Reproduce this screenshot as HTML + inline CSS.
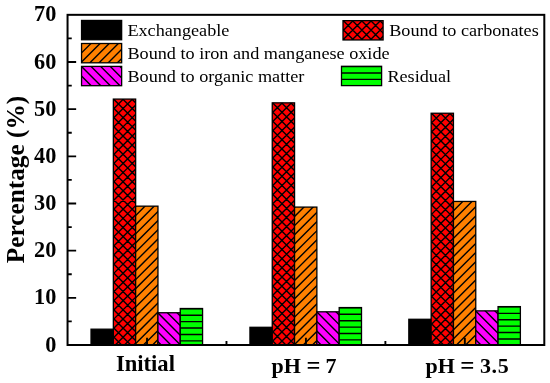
<!DOCTYPE html>
<html lang="en"><head><meta charset="utf-8"><title>Percentage chart</title>
<style>html,body{margin:0;padding:0;background:#fff}body{width:550px;height:383px;overflow:hidden}svg{display:block;filter:blur(0.35px)}svg text{font-family:"Liberation Serif",serif}</style></head>
<body>
<svg width="550" height="383" viewBox="0 0 550 383">
<rect width="550" height="383" fill="#fff"/>
<!-- bars -->
<rect x="91.03" y="329.19" width="22.31" height="15.81" fill="#000000"/><rect x="91.03" y="329.19" width="22.31" height="15.81" fill="none" stroke="#000" stroke-width="1.3"/>
<rect x="113.34" y="99.09" width="22.31" height="245.91" fill="#ff0000"/><clipPath id="c1"><rect x="113.34" y="99.09" width="22.31" height="245.91"/></clipPath><path clip-path="url(#c1)" d="M112.34 82.64L136.65 58.33M112.34 91.79L136.65 67.48M112.34 100.94L136.65 76.63M112.34 110.09L136.65 85.78M112.34 119.24L136.65 94.93M112.34 128.39L136.65 104.08M112.34 137.54L136.65 113.23M112.34 146.69L136.65 122.38M112.34 155.84L136.65 131.53M112.34 164.99L136.65 140.68M112.34 174.14L136.65 149.83M112.34 183.29L136.65 158.98M112.34 192.44L136.65 168.13M112.34 201.59L136.65 177.28M112.34 210.74L136.65 186.43M112.34 219.89L136.65 195.58M112.34 229.04L136.65 204.73M112.34 238.19L136.65 213.88M112.34 247.34L136.65 223.03M112.34 256.49L136.65 232.18M112.34 265.64L136.65 241.33M112.34 274.79L136.65 250.48M112.34 283.94L136.65 259.63M112.34 293.09L136.65 268.78M112.34 302.24L136.65 277.93M112.34 311.39L136.65 287.08M112.34 320.54L136.65 296.23M112.34 329.69L136.65 305.38M112.34 338.84L136.65 314.53M112.34 347.99L136.65 323.68M112.34 357.14L136.65 332.83M112.34 366.29L136.65 341.98M112.34 375.44L136.65 351.13M112.34 61.19L136.65 85.5M112.34 70.34L136.65 94.65M112.34 79.49L136.65 103.8M112.34 88.64L136.65 112.95M112.34 97.79L136.65 122.1M112.34 106.94L136.65 131.25M112.34 116.09L136.65 140.4M112.34 125.24L136.65 149.55M112.34 134.39L136.65 158.7M112.34 143.54L136.65 167.85M112.34 152.69L136.65 177M112.34 161.84L136.65 186.15M112.34 170.99L136.65 195.3M112.34 180.14L136.65 204.45M112.34 189.29L136.65 213.6M112.34 198.44L136.65 222.75M112.34 207.59L136.65 231.9M112.34 216.74L136.65 241.05M112.34 225.89L136.65 250.2M112.34 235.04L136.65 259.35M112.34 244.19L136.65 268.5M112.34 253.34L136.65 277.65M112.34 262.49L136.65 286.8M112.34 271.64L136.65 295.95M112.34 280.79L136.65 305.1M112.34 289.94L136.65 314.25M112.34 299.09L136.65 323.4M112.34 308.24L136.65 332.55M112.34 317.39L136.65 341.7M112.34 326.54L136.65 350.85M112.34 335.69L136.65 360M112.34 344.84L136.65 369.15" stroke="#000" stroke-width="1.4" fill="none"/><rect x="113.34" y="99.09" width="22.31" height="245.91" fill="none" stroke="#000" stroke-width="1.3"/>
<rect x="135.65" y="206.16" width="22.31" height="138.84" fill="#ff8000"/><clipPath id="c2"><rect x="135.65" y="206.16" width="22.31" height="138.84"/></clipPath><path clip-path="url(#c2)" d="M134.65 189.06L158.96 164.75M134.65 198.21L158.96 173.9M134.65 207.36L158.96 183.05M134.65 216.51L158.96 192.2M134.65 225.66L158.96 201.35M134.65 234.81L158.96 210.5M134.65 243.96L158.96 219.65M134.65 253.11L158.96 228.8M134.65 262.26L158.96 237.95M134.65 271.41L158.96 247.1M134.65 280.56L158.96 256.25M134.65 289.71L158.96 265.4M134.65 298.86L158.96 274.55M134.65 308.01L158.96 283.7M134.65 317.16L158.96 292.85M134.65 326.31L158.96 302M134.65 335.46L158.96 311.15M134.65 344.61L158.96 320.3M134.65 353.76L158.96 329.45M134.65 362.91L158.96 338.6M134.65 372.06L158.96 347.75" stroke="#000" stroke-width="1.4" fill="none"/><rect x="135.65" y="206.16" width="22.31" height="138.84" fill="none" stroke="#000" stroke-width="1.3"/>
<rect x="157.95" y="312.75" width="22.31" height="32.25" fill="#ff00ff"/><clipPath id="c3"><rect x="157.95" y="312.75" width="22.31" height="32.25"/></clipPath><path clip-path="url(#c3)" d="M156.95 273.45L181.26 297.76M156.95 283.05L181.26 307.36M156.95 292.65L181.26 316.96M156.95 302.25L181.26 326.56M156.95 311.85L181.26 336.16M156.95 321.45L181.26 345.76M156.95 331.05L181.26 355.36M156.95 340.65L181.26 364.96M156.95 350.25L181.26 374.56" stroke="#000" stroke-width="1.4" fill="none"/><rect x="157.95" y="312.75" width="22.31" height="32.25" fill="none" stroke="#000" stroke-width="1.3"/>
<rect x="180.26" y="308.51" width="22.31" height="36.49" fill="#00ff00"/><clipPath id="c4"><rect x="180.26" y="308.51" width="22.31" height="36.49"/></clipPath><path clip-path="url(#c4)" d="M179.26 308.81H203.57M179.26 315.22H203.57M179.26 321.63H203.57M179.26 328.04H203.57M179.26 334.45H203.57M179.26 340.86H203.57M179.26 347.27H203.57" stroke="#000" stroke-width="1.4" fill="none"/><rect x="180.26" y="308.51" width="22.31" height="36.49" fill="none" stroke="#000" stroke-width="1.3"/>
<rect x="249.95" y="327.3" width="22.31" height="17.7" fill="#000000"/><rect x="249.95" y="327.3" width="22.31" height="17.7" fill="none" stroke="#000" stroke-width="1.3"/>
<rect x="272.25" y="102.86" width="22.31" height="242.14" fill="#ff0000"/><clipPath id="c5"><rect x="272.25" y="102.86" width="22.31" height="242.14"/></clipPath><path clip-path="url(#c5)" d="M271.25 86.41L295.56 62.1M271.25 95.56L295.56 71.25M271.25 104.71L295.56 80.4M271.25 113.86L295.56 89.55M271.25 123.01L295.56 98.7M271.25 132.16L295.56 107.85M271.25 141.31L295.56 117M271.25 150.46L295.56 126.15M271.25 159.61L295.56 135.3M271.25 168.76L295.56 144.45M271.25 177.91L295.56 153.6M271.25 187.06L295.56 162.75M271.25 196.21L295.56 171.9M271.25 205.36L295.56 181.05M271.25 214.51L295.56 190.2M271.25 223.66L295.56 199.35M271.25 232.81L295.56 208.5M271.25 241.96L295.56 217.65M271.25 251.11L295.56 226.8M271.25 260.26L295.56 235.95M271.25 269.41L295.56 245.1M271.25 278.56L295.56 254.25M271.25 287.71L295.56 263.4M271.25 296.86L295.56 272.55M271.25 306.01L295.56 281.7M271.25 315.16L295.56 290.85M271.25 324.31L295.56 300M271.25 333.46L295.56 309.15M271.25 342.61L295.56 318.3M271.25 351.76L295.56 327.45M271.25 360.91L295.56 336.6M271.25 370.06L295.56 345.75M271.25 64.96L295.56 89.27M271.25 74.11L295.56 98.42M271.25 83.26L295.56 107.57M271.25 92.41L295.56 116.72M271.25 101.56L295.56 125.87M271.25 110.71L295.56 135.02M271.25 119.86L295.56 144.17M271.25 129.01L295.56 153.32M271.25 138.16L295.56 162.47M271.25 147.31L295.56 171.62M271.25 156.46L295.56 180.77M271.25 165.61L295.56 189.92M271.25 174.76L295.56 199.07M271.25 183.91L295.56 208.22M271.25 193.06L295.56 217.37M271.25 202.21L295.56 226.52M271.25 211.36L295.56 235.67M271.25 220.51L295.56 244.82M271.25 229.66L295.56 253.97M271.25 238.81L295.56 263.12M271.25 247.96L295.56 272.27M271.25 257.11L295.56 281.42M271.25 266.26L295.56 290.57M271.25 275.41L295.56 299.72M271.25 284.56L295.56 308.87M271.25 293.71L295.56 318.02M271.25 302.86L295.56 327.17M271.25 312.01L295.56 336.32M271.25 321.16L295.56 345.47M271.25 330.31L295.56 354.62M271.25 339.46L295.56 363.77M271.25 348.61L295.56 372.92" stroke="#000" stroke-width="1.4" fill="none"/><rect x="272.25" y="102.86" width="22.31" height="242.14" fill="none" stroke="#000" stroke-width="1.3"/>
<rect x="294.56" y="207.1" width="22.31" height="137.9" fill="#ff8000"/><clipPath id="c6"><rect x="294.56" y="207.1" width="22.31" height="137.9"/></clipPath><path clip-path="url(#c6)" d="M293.56 190L317.88 165.69M293.56 199.15L317.88 174.84M293.56 208.3L317.88 183.99M293.56 217.45L317.88 193.14M293.56 226.6L317.88 202.29M293.56 235.75L317.88 211.44M293.56 244.9L317.88 220.59M293.56 254.05L317.88 229.74M293.56 263.2L317.88 238.89M293.56 272.35L317.88 248.04M293.56 281.5L317.88 257.19M293.56 290.65L317.88 266.34M293.56 299.8L317.88 275.49M293.56 308.95L317.88 284.64M293.56 318.1L317.88 293.79M293.56 327.25L317.88 302.94M293.56 336.4L317.88 312.09M293.56 345.55L317.88 321.24M293.56 354.7L317.88 330.39M293.56 363.85L317.88 339.54M293.56 373L317.88 348.69" stroke="#000" stroke-width="1.4" fill="none"/><rect x="294.56" y="207.1" width="22.31" height="137.9" fill="none" stroke="#000" stroke-width="1.3"/>
<rect x="316.88" y="311.81" width="22.31" height="33.19" fill="#ff00ff"/><clipPath id="c7"><rect x="316.88" y="311.81" width="22.31" height="33.19"/></clipPath><path clip-path="url(#c7)" d="M315.88 272.51L340.19 296.82M315.88 282.11L340.19 306.42M315.88 291.71L340.19 316.02M315.88 301.31L340.19 325.62M315.88 310.91L340.19 335.22M315.88 320.51L340.19 344.82M315.88 330.11L340.19 354.42M315.88 339.71L340.19 364.02M315.88 349.31L340.19 373.62" stroke="#000" stroke-width="1.4" fill="none"/><rect x="316.88" y="311.81" width="22.31" height="33.19" fill="none" stroke="#000" stroke-width="1.3"/>
<rect x="339.19" y="307.57" width="22.31" height="37.43" fill="#00ff00"/><clipPath id="c8"><rect x="339.19" y="307.57" width="22.31" height="37.43"/></clipPath><path clip-path="url(#c8)" d="M338.19 307.87H362.5M338.19 314.28H362.5M338.19 320.69H362.5M338.19 327.1H362.5M338.19 333.51H362.5M338.19 339.92H362.5M338.19 346.33H362.5" stroke="#000" stroke-width="1.4" fill="none"/><rect x="339.19" y="307.57" width="22.31" height="37.43" fill="none" stroke="#000" stroke-width="1.3"/>
<rect x="408.83" y="319.29" width="22.31" height="25.71" fill="#000000"/><rect x="408.83" y="319.29" width="22.31" height="25.71" fill="none" stroke="#000" stroke-width="1.3"/>
<rect x="431.14" y="113.24" width="22.31" height="231.76" fill="#ff0000"/><clipPath id="c9"><rect x="431.14" y="113.24" width="22.31" height="231.76"/></clipPath><path clip-path="url(#c9)" d="M430.14 96.79L454.45 72.48M430.14 105.94L454.45 81.63M430.14 115.09L454.45 90.78M430.14 124.24L454.45 99.93M430.14 133.39L454.45 109.08M430.14 142.54L454.45 118.23M430.14 151.69L454.45 127.38M430.14 160.84L454.45 136.53M430.14 169.99L454.45 145.68M430.14 179.14L454.45 154.83M430.14 188.29L454.45 163.98M430.14 197.44L454.45 173.13M430.14 206.59L454.45 182.28M430.14 215.74L454.45 191.43M430.14 224.89L454.45 200.58M430.14 234.04L454.45 209.73M430.14 243.19L454.45 218.88M430.14 252.34L454.45 228.03M430.14 261.49L454.45 237.18M430.14 270.64L454.45 246.33M430.14 279.79L454.45 255.48M430.14 288.94L454.45 264.63M430.14 298.09L454.45 273.78M430.14 307.24L454.45 282.93M430.14 316.39L454.45 292.08M430.14 325.54L454.45 301.23M430.14 334.69L454.45 310.38M430.14 343.84L454.45 319.53M430.14 352.99L454.45 328.68M430.14 362.14L454.45 337.83M430.14 371.29L454.45 346.98M430.14 75.34L454.45 99.65M430.14 84.49L454.45 108.8M430.14 93.64L454.45 117.95M430.14 102.79L454.45 127.1M430.14 111.94L454.45 136.25M430.14 121.09L454.45 145.4M430.14 130.24L454.45 154.55M430.14 139.39L454.45 163.7M430.14 148.54L454.45 172.85M430.14 157.69L454.45 182M430.14 166.84L454.45 191.15M430.14 175.99L454.45 200.3M430.14 185.14L454.45 209.45M430.14 194.29L454.45 218.6M430.14 203.44L454.45 227.75M430.14 212.59L454.45 236.9M430.14 221.74L454.45 246.05M430.14 230.89L454.45 255.2M430.14 240.04L454.45 264.35M430.14 249.19L454.45 273.5M430.14 258.34L454.45 282.65M430.14 267.49L454.45 291.8M430.14 276.64L454.45 300.95M430.14 285.79L454.45 310.1M430.14 294.94L454.45 319.25M430.14 304.09L454.45 328.4M430.14 313.24L454.45 337.55M430.14 322.39L454.45 346.7M430.14 331.54L454.45 355.85M430.14 340.69L454.45 365M430.14 349.84L454.45 374.15" stroke="#000" stroke-width="1.4" fill="none"/><rect x="431.14" y="113.24" width="22.31" height="231.76" fill="none" stroke="#000" stroke-width="1.3"/>
<rect x="453.45" y="201.44" width="22.31" height="143.56" fill="#ff8000"/><clipPath id="c10"><rect x="453.45" y="201.44" width="22.31" height="143.56"/></clipPath><path clip-path="url(#c10)" d="M452.45 184.34L476.76 160.03M452.45 193.49L476.76 169.18M452.45 202.64L476.76 178.33M452.45 211.79L476.76 187.48M452.45 220.94L476.76 196.63M452.45 230.09L476.76 205.78M452.45 239.24L476.76 214.93M452.45 248.39L476.76 224.08M452.45 257.54L476.76 233.23M452.45 266.69L476.76 242.38M452.45 275.84L476.76 251.53M452.45 284.99L476.76 260.68M452.45 294.14L476.76 269.83M452.45 303.29L476.76 278.98M452.45 312.44L476.76 288.13M452.45 321.59L476.76 297.28M452.45 330.74L476.76 306.43M452.45 339.89L476.76 315.58M452.45 349.04L476.76 324.73M452.45 358.19L476.76 333.88M452.45 367.34L476.76 343.03M452.45 376.49L476.76 352.18" stroke="#000" stroke-width="1.4" fill="none"/><rect x="453.45" y="201.44" width="22.31" height="143.56" fill="none" stroke="#000" stroke-width="1.3"/>
<rect x="475.76" y="310.87" width="22.31" height="34.13" fill="#ff00ff"/><clipPath id="c11"><rect x="475.76" y="310.87" width="22.31" height="34.13"/></clipPath><path clip-path="url(#c11)" d="M474.76 271.57L499.07 295.88M474.76 281.17L499.07 305.48M474.76 290.77L499.07 315.08M474.76 300.37L499.07 324.68M474.76 309.97L499.07 334.28M474.76 319.57L499.07 343.88M474.76 329.17L499.07 353.48M474.76 338.77L499.07 363.08M474.76 348.37L499.07 372.68" stroke="#000" stroke-width="1.4" fill="none"/><rect x="475.76" y="310.87" width="22.31" height="34.13" fill="none" stroke="#000" stroke-width="1.3"/>
<rect x="498.07" y="306.62" width="22.31" height="38.38" fill="#00ff00"/><clipPath id="c12"><rect x="498.07" y="306.62" width="22.31" height="38.38"/></clipPath><path clip-path="url(#c12)" d="M497.07 306.92H521.38M497.07 313.33H521.38M497.07 319.74H521.38M497.07 326.15H521.38M497.07 332.56H521.38M497.07 338.97H521.38M497.07 345.38H521.38" stroke="#000" stroke-width="1.4" fill="none"/><rect x="498.07" y="306.62" width="22.31" height="38.38" fill="none" stroke="#000" stroke-width="1.3"/>
<!-- axes frame and ticks -->
<rect x="67.55" y="14.83" width="476.75" height="330.17" fill="none" stroke="#000" stroke-width="2.0"/>
<path d="M67.55 321.42h4.2M67.55 297.83h8.6M67.55 274.25h4.2M67.55 250.67h8.6M67.55 227.08h4.2M67.55 203.5h8.6M67.55 179.91h4.2M67.55 156.33h8.6M67.55 132.75h4.2M67.55 109.16h8.6M67.55 85.58h4.2M67.55 62h8.6M67.55 38.41h4.2M147.01 345.0v-7.2M305.92 345.0v-7.2M464.84 345.0v-7.2M226.47 345.0v-4M385.38 345.0v-4" stroke="#000" stroke-width="1.9" fill="none"/>
<!-- tick labels -->
<g font-family="Liberation Serif, serif" font-weight="bold" fill="#000">
<text transform="translate(56.4 351.6) scale(0.97 1)" font-size="23" text-anchor="end">0</text>
<text transform="translate(56.4 304.43) scale(0.97 1)" font-size="23" text-anchor="end">10</text>
<text transform="translate(56.4 257.27) scale(0.97 1)" font-size="23" text-anchor="end">20</text>
<text transform="translate(56.4 210.1) scale(0.97 1)" font-size="23" text-anchor="end">30</text>
<text transform="translate(56.4 162.93) scale(0.97 1)" font-size="23" text-anchor="end">40</text>
<text transform="translate(56.4 115.76) scale(0.97 1)" font-size="23" text-anchor="end">50</text>
<text transform="translate(56.4 68.6) scale(0.97 1)" font-size="23" text-anchor="end">60</text>
<text transform="translate(56.4 21.43) scale(0.97 1)" font-size="23" text-anchor="end">70</text>
<text transform="translate(145.41 370.9)" font-size="22.6" text-anchor="middle">Initial</text>
<text transform="translate(271.6 372.8)" font-size="22">pH <tspan font-size="24.5" dy="1">=</tspan><tspan dx="-0.5" dy="-1"> 7</tspan></text>
<text transform="translate(425.5 372.8)" font-size="22">pH <tspan font-size="25" dy="1">=</tspan><tspan dx="-0.9" dy="-1" letter-spacing="0.7"> 3.5</tspan></text>
<text transform="translate(23.8 179.5) rotate(-90)" font-size="25.3" text-anchor="middle">Percentage (%)</text>
</g>
<!-- legend -->
<g font-family="Liberation Serif, serif" fill="#000">
<rect x="81.55" y="20.45" width="40.1" height="19.3" fill="#000000"/><rect x="81.55" y="20.45" width="40.1" height="19.3" fill="none" stroke="#000" stroke-width="1.3"/>
<text transform="translate(127.4 36) scale(1.04 1)" font-size="17.5">Exchangeable</text>
<rect x="343" y="20.65" width="40.1" height="19.3" fill="#ff0000"/><clipPath id="c13"><rect x="343" y="20.65" width="40.1" height="19.3"/></clipPath><path clip-path="url(#c13)" d="M342 4.2L384.1 -37.9M342 13.35L384.1 -28.75M342 22.5L384.1 -19.6M342 31.65L384.1 -10.45M342 40.8L384.1 -1.3M342 49.95L384.1 7.85M342 59.1L384.1 17M342 68.25L384.1 26.15M342 77.4L384.1 35.3M342 86.55L384.1 44.45M342 -35.55L384.1 6.55M342 -26.4L384.1 15.7M342 -17.25L384.1 24.85M342 -8.1L384.1 34M342 1.05L384.1 43.15M342 10.2L384.1 52.3M342 19.35L384.1 61.45M342 28.5L384.1 70.6M342 37.65L384.1 79.75M342 46.8L384.1 88.9" stroke="#000" stroke-width="1.4" fill="none"/><rect x="343" y="20.65" width="40.1" height="19.3" fill="none" stroke="#000" stroke-width="1.3"/>
<text transform="translate(389.2 36.1) scale(1.04 1)" font-size="17.5">Bound to carbonates</text>
<rect x="81.55" y="43.5" width="40.1" height="19.3" fill="#ff8000"/><clipPath id="c14"><rect x="81.55" y="43.5" width="40.1" height="19.3"/></clipPath><path clip-path="url(#c14)" d="M80.55 26.4L122.65 -15.7M80.55 35.55L122.65 -6.55M80.55 44.7L122.65 2.6M80.55 53.85L122.65 11.75M80.55 63L122.65 20.9M80.55 72.15L122.65 30.05M80.55 81.3L122.65 39.2M80.55 90.45L122.65 48.35M80.55 99.6L122.65 57.5M80.55 108.75L122.65 66.65" stroke="#000" stroke-width="1.4" fill="none"/><rect x="81.55" y="43.5" width="40.1" height="19.3" fill="none" stroke="#000" stroke-width="1.3"/>
<text transform="translate(127.4 59.35) scale(1.04 1)" font-size="17.5">Bound to iron and manganese oxide</text>
<rect x="81.55" y="66.4" width="40.1" height="19.3" fill="#ff00ff"/><clipPath id="c15"><rect x="81.55" y="66.4" width="40.1" height="19.3"/></clipPath><path clip-path="url(#c15)" d="M80.55 7.9L122.65 50M80.55 17.5L122.65 59.6M80.55 27.1L122.65 69.2M80.55 36.7L122.65 78.8M80.55 46.3L122.65 88.4M80.55 55.9L122.65 98M80.55 65.5L122.65 107.6M80.55 75.1L122.65 117.2M80.55 84.7L122.65 126.8" stroke="#000" stroke-width="1.4" fill="none"/><rect x="81.55" y="66.4" width="40.1" height="19.3" fill="none" stroke="#000" stroke-width="1.3"/>
<text transform="translate(127.4 82.15) scale(1.04 1)" font-size="17.5">Bound to organic matter</text>
<rect x="341.5" y="66.3" width="40.1" height="19.3" fill="#00ff00"/><clipPath id="c16"><rect x="341.5" y="66.3" width="40.1" height="19.3"/></clipPath><path clip-path="url(#c16)" d="M340.5 66.6H382.6M340.5 73.01H382.6M340.5 79.42H382.6M340.5 85.83H382.6" stroke="#000" stroke-width="1.4" fill="none"/><rect x="341.5" y="66.3" width="40.1" height="19.3" fill="none" stroke="#000" stroke-width="1.3"/>
<text transform="translate(387.4 82.15) scale(1.04 1)" font-size="17.5">Residual</text>
</g>
</svg>
</body></html>
